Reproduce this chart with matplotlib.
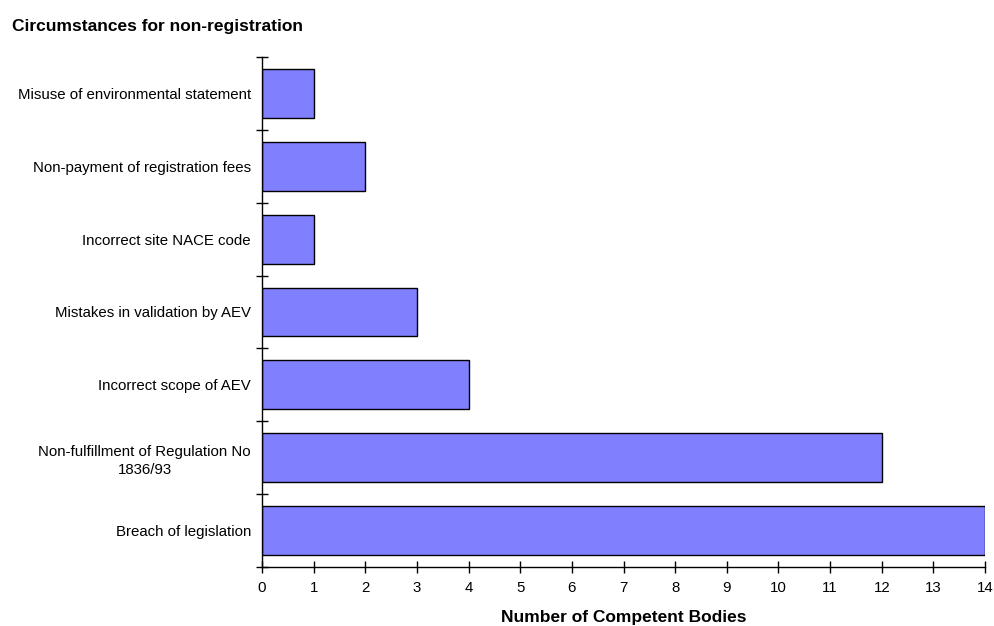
import numpy as np
import matplotlib.pyplot as plt

plt.rcParams['font.family'] = ['Liberation Sans', 'DejaVu Sans']

categories = [
    "Breach of legislation",
    "Non-fulfillment of Regulation No\n1836/93",
    "Incorrect scope of AEV",
    "Mistakes in validation by AEV",
    "Incorrect site NACE code",
    "Non-payment of registration fees",
    "Misuse of environmental statement",
]
counts = [14, 12, 4, 3, 1, 2, 1]
x_ticks = list(range(0, 15))

fig = plt.figure(figsize=(9.94, 6.26), dpi=100)
ax = fig.add_axes([0.2636, 0.0942, 0.7274, 0.8148])

y = np.arange(len(categories))
ax.barh(y, counts, height=0.67, color='#8080FF', edgecolor='black', linewidth=1)

ax.set_xlim(0, 14)
ax.set_ylim(-0.5, len(categories) - 0.5)
ax.set_xticks(x_ticks)
ax.set_yticks(y)
ax.set_yticklabels(categories, fontsize=10.8, multialignment='center', linespacing=1.35)
ax.set_yticks(np.arange(-0.5, len(categories), 1), minor=True)
ax.tick_params(axis='y', which='major', length=0, pad=8)
ax.tick_params(axis='y', which='minor', direction='inout', length=8, width=1)
ax.tick_params(axis='x', direction='inout', length=8, width=1, labelsize=10.8, pad=6)

for s in ['top', 'right']:
    ax.spines[s].set_visible(False)
ax.spines['left'].set_linewidth(1)
ax.spines['bottom'].set_linewidth(1)

ax.set_xlabel("Number of Competent Bodies", fontsize=12.5, fontweight='bold', labelpad=11)
fig.text(12 / 994, 1 - 26 / 626, "Circumstances for non-registration",
         fontsize=12.5, fontweight='bold', va='center', ha='left')

fig.savefig('out.png', dpi=100)
